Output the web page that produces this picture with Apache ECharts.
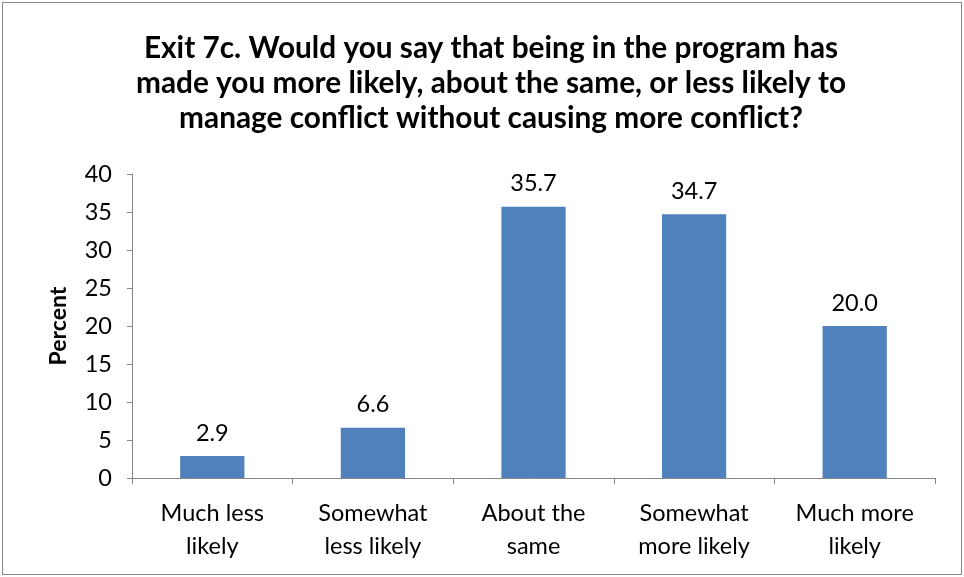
<!DOCTYPE html>
<html><head><meta charset="utf-8">
<script src="https://cdn.jsdelivr.net/npm/echarts@6/dist/echarts.min.js"></script>
<style>html,body{margin:0;padding:0;background:#fff}#c{box-sizing:border-box;border:1px solid #888;position:absolute;left:2px;top:2px;width:960px;height:573px}</style>
</head><body><div id="c"></div>
<script>
const titleText = "Exit 7c. Would you say that being in the program has\nmade you more likely, about the same, or less likely to\nmanage conflict without causing more conflict?";
const categories = ["Much less\nlikely", "Somewhat\nless likely", "About the\nsame", "Somewhat\nmore likely", "Much more\nlikely"];
const percentValues = [2.9, 6.6, 35.7, 34.7, 20.0];
const yTicks = {min: 0, max: 40, interval: 5};
const yName = "Percent";

const chart = echarts.init(document.getElementById('c'));
const font = 'Lato, "Open Sans", sans-serif';
chart.setOption({
  animation: false,
  title: {text: titleText, left: 483, top: 23, textAlign: 'center',
    textStyle: {fontFamily: font, fontWeight: 'bold', fontSize: 29.8, lineHeight: 35, color: '#000'}},
  grid: {left: 129, right: 26, top: 171, bottom: 96},
  xAxis: {type: 'category', data: categories,
    axisLine: {lineStyle: {color: '#868686', width: 1}},
    axisTick: {show: true, alignWithLabel: false, length: 6, lineStyle: {color: '#868686'}},
    axisLabel: {fontFamily: font, fontSize: 23.5, color: '#000', lineHeight: 33, margin: 19, interval: 0}},
  yAxis: {type: 'value', min: yTicks.min, max: yTicks.max, interval: yTicks.interval,
    name: yName, nameLocation: 'middle', nameGap: 62, nameRotate: 90,
    nameTextStyle: {fontFamily: font, fontWeight: 'bold', fontSize: 23, color: '#000'},
    axisLine: {show: true, lineStyle: {color: '#868686'}},
    axisTick: {show: true, length: 5, lineStyle: {color: '#868686'}},
    splitLine: {show: false},
    axisLabel: {fontFamily: font, fontSize: 23.5, color: '#000', margin: 20}},
  series: [{type: 'bar', data: percentValues, barWidth: '40%',
    itemStyle: {color: '#4F81BD'},
    label: {show: true, position: 'top', distance: 11, fontFamily: font, fontSize: 23.5, color: '#000',
      formatter: p => p.value.toFixed(1)}}]
});
</script></body></html>
